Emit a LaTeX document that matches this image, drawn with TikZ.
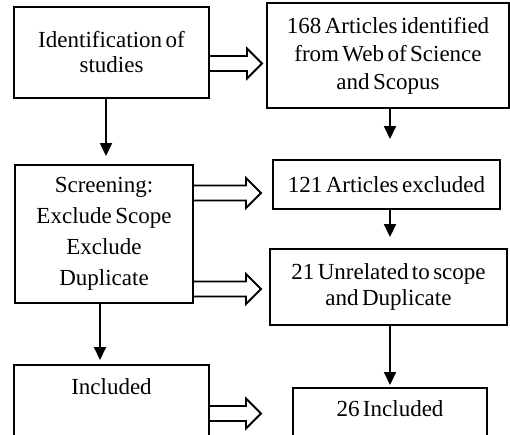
\documentclass[tikz,border=0pt]{standalone}
\usepackage{fontspec}
\setmainfont{Liberation Serif}[WordSpace=0.6]
\usetikzlibrary{arrows.meta,calc}

\tikzset{
  box/.style={draw, line width=2pt, align=center, inner sep=0pt,
    font=\fontsize{23}{28}\selectfont},
  down/.style={line width=2pt, -{Triangle[length=13pt,width=12pt]}},
  fat/.style={line width=1.8pt, line join=miter},
}

% hollow block arrow: from node, to node, y of the shaft, gap before the target
\newcommand{\fatarrow}[4]{%
  \draw[fat] let \p1=(#1.east), \p2=(#2.west), \p3=(0,#3) in
    (\x1,\y3+7.5pt) -- (\x2-#4pt-15pt,\y3+7.5pt) -- (\x2-#4pt-15pt,\y3+15pt)
    -- (\x2-#4pt,\y3) -- (\x2-#4pt-15pt,\y3-15pt) -- (\x2-#4pt-15pt,\y3-7.5pt)
    -- (\x1,\y3-7.5pt);}

\begin{document}
\begin{tikzpicture}[x=1pt,y=-1pt]
  \useasboundingbox (0,0) rectangle (510,434);
  \clip (0,0) rectangle (510,434);

  %% left column
  \node[box, minimum width=195pt, minimum height=91pt,
    font=\fontsize{23}{25}\selectfont] (ident) at (111.5,52.5) {Identification of\\studies};
  \node[box, minimum width=178pt, minimum height=138pt,
    font=\fontsize{23}{31}\selectfont] (screen) at (104,234) {Screening:\\Exclude Scope\\Exclude\\Duplicate};
  \node[box, anchor=north, minimum width=195pt, text height=29pt, text depth=50pt] (incl) at (111.5,364) {Included};

  %% right column
  \node[box, minimum width=242pt, minimum height=105pt] (art) at (388,55.5) {168 Articles identified\\from Web of Science\\and Scopus};
  \node[box, minimum width=227pt, minimum height=49pt] (excl) at (386.5,184.5) {121 Articles excluded};
  \node[box, minimum width=237pt, minimum height=76pt,
    font=\fontsize{23}{26}\selectfont] (unrel) at (388.5,287) {21 Unrelated to scope\\and Duplicate};
  \node[box, anchor=north, minimum width=194pt, text height=28pt, text depth=40pt] (final) at (390,387) {26 Included};

  %% down arrows
  \draw[down, shorten >=8pt] ([xshift=-5.5pt]ident.south) -- ([xshift=-5.5pt]ident.south |- screen.north);
  \draw[down, shorten >=4pt] ([xshift=-4pt]screen.south) -- ([xshift=-4pt]screen.south |- incl.north);
  \draw[down, shorten >=20pt] ([xshift=2pt]art.south) -- ([xshift=2pt]art.south |- excl.north);
  \draw[down, shorten >=11pt] ([xshift=3.5pt]excl.south) -- ([xshift=3.5pt]excl.south |- unrel.north);
  \draw[down, shorten >=2pt] ([xshift=1.5pt]unrel.south) -- ([xshift=1.5pt]unrel.south |- final.north);

  %% block arrows
  \fatarrow{ident}{art}{63.5}{4}
  \fatarrow{screen}{excl}{193}{11}
  \fatarrow{screen}{unrel}{289}{8}
  \fatarrow{incl}{final}{413.5}{31}
\end{tikzpicture}
\end{document}
